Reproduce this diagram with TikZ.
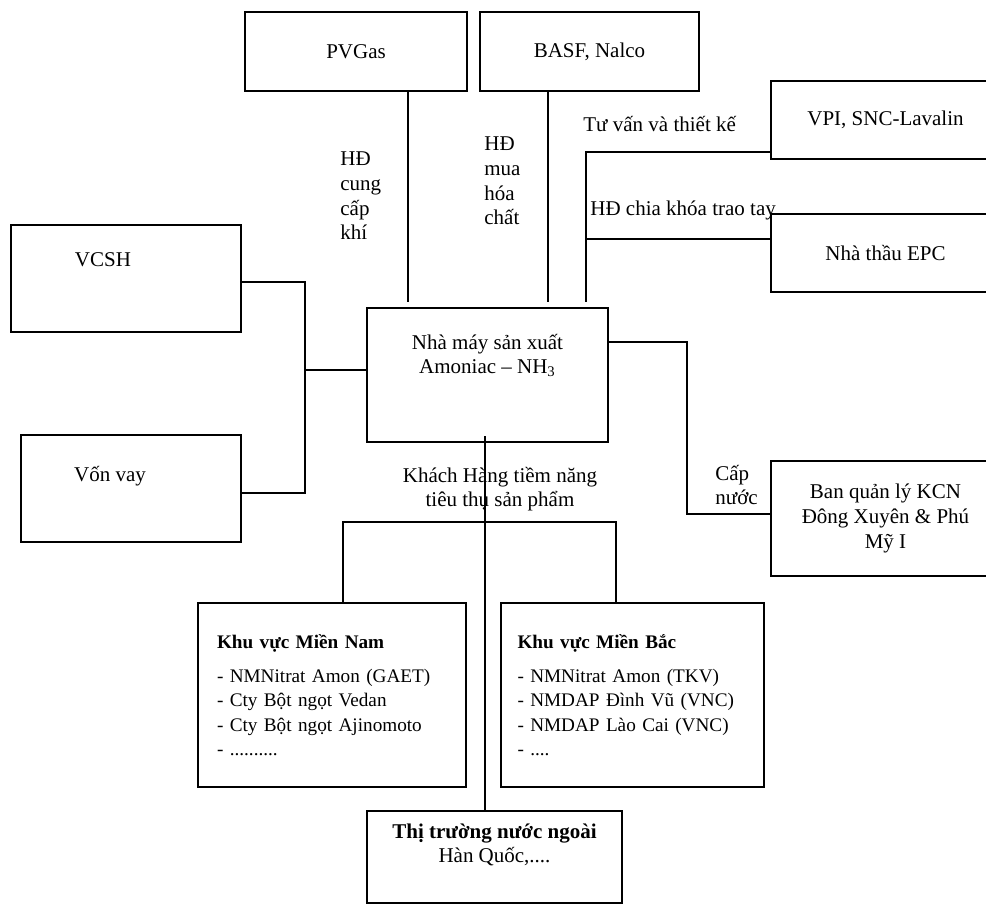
\documentclass[tikz,border=0pt]{standalone}
\usepackage{fontspec}
\setmainfont{Liberation Serif}

\begin{document}
\begin{tikzpicture}[x=0.5pt, y=-0.5pt,
   every node/.style={align=center, font=\fontsize{10.5}{12.3}\selectfont},
   box/.style={draw, rectangle, line width=1.4pt, inner sep=0pt},
   list/.style={box, minimum height=92pt, text width=115pt, align=left, font=\fontsize{9.6}{12.2}\selectfont},
   note/.style={anchor=west, align=left, inner sep=0pt},
   link/.style={line width=0.8pt}]
   \useasboundingbox (0,0) rectangle (986,905);

   % suppliers and partners
   \node[box, minimum width=111pt, minimum height=39.5pt] (pvgas) at (356,51.5) {PVGas};
   \node[box, minimum width=109.5pt, minimum height=39.5pt] (basf) at (589.5,51.5) {BASF, Nalco};
   \node[box, minimum width=114.5pt, minimum height=39pt] (vpi) at (885.5,120) {VPI, SNC-Lavalin};
   \node[box, minimum width=114.5pt, minimum height=39pt] (epc) at (885.5,253) {Nhà thầu EPC};
   \node[box, minimum width=115pt, minimum height=53.5pt,
      label={[name=vcsh-t, xshift=-11.5pt, yshift=9.25pt]center:VCSH}] (vcsh) at (126,278.5) {};
   \node[box, minimum width=110pt, minimum height=53.5pt,
      label={[name=vonvay-t, xshift=-10.5pt, yshift=6.25pt]center:Vốn vay}] (vonvay) at (131,488.5) {};
   \node[box, minimum width=120.5pt, minimum height=67pt,
      label={[name=nhamay-t, yshift=9.75pt]center:{Nhà máy sản xuất\\Amoniac – NH\textsubscript{3}}}] (nhamay) at (487.5,375) {};
   \node[box, minimum width=114.5pt, minimum height=57.5pt] (banql) at (885.5,518.5) {Ban quản lý KCN\\Đông Xuyên \& Phú\\Mỹ I};

   % customers
   \node[list, minimum width=134pt] (nam) at (332,695)
      {\textbf{Khu vực Miền Nam}\\[5pt] - NMNitrat Amon (GAET)\\ - Cty Bột ngọt Vedan\\ - Cty Bột ngọt Ajinomoto\\ - ..........};
   \node[list, minimum width=131.5pt] (bac) at (632.5,695)
      {\textbf{Khu vực Miền Bắc}\\[5pt] - NMNitrat Amon (TKV)\\ - NMDAP Đình Vũ (VNC)\\ - NMDAP Lào Cai (VNC)\\ - ....};
   \node[box, minimum width=127.5pt, minimum height=46pt,
      label={[name=ttnn-t, yshift=6pt]center:{\textbf{Thị trường nước ngoài}\\Hàn Quốc,....}}] (ttnn) at (494.5,857) {};

   % labels
   \node[note] (hdgas) at (340,196) {HĐ\\cung\\cấp\\khí};
   \node[note] (hdchem) at (484,181) {HĐ\\mua\\hóa\\chất};
   \node[note] (tuvan) at (583,124) {Tư vấn và thiết kế};
   \node[note] (chiakhoa) at (590,210) {HĐ chia khóa trao tay};
   \node[note] (capnuoc) at (715,485) {Cấp\\nước};
   \node (khachhang) at (500,489) {Khách Hàng tiềm năng\\tiêu thụ sản phẩm};

   \coordinate (joinL) at (305,370);
   \coordinate (water) at (687,430);
   \coordinate (split) at (485,522);

   % connectors
   \draw[link] ([xshift=26pt]pvgas.south) -- ([xshift=26pt,yshift=2.5pt]pvgas.south |- nhamay.north);
   \draw[link] ([xshift=-20.75pt]basf.south) -- ([xshift=-20.75pt,yshift=2.5pt]basf.south |- nhamay.north);
   \draw[link] ([yshift=-16pt]vpi.west) -| ([xshift=49.25pt,yshift=2.5pt]nhamay.north);
   \draw[link] ([yshift=7pt]epc.west) -| ([xshift=49.25pt,yshift=2.5pt]nhamay.north);
   \draw[link] ([yshift=-1.75pt]vcsh.east) -| (joinL) |- ([yshift=-2.25pt]vonvay.east);
   \draw[link] (joinL) -- (joinL -| nhamay.west);
   \draw[link] ([yshift=16.5pt]nhamay.east) -| (water) |- ([yshift=2.25pt]banql.west);
   \draw[link] ([xshift=-1.25pt,yshift=3.5pt]nhamay.south) -- ([xshift=-1.25pt]nhamay.south |- ttnn.north);
   \draw[link] ([xshift=5.5pt]nam.north) |- (split) -| ([xshift=-8.25pt]bac.north);
\end{tikzpicture}
\end{document}
